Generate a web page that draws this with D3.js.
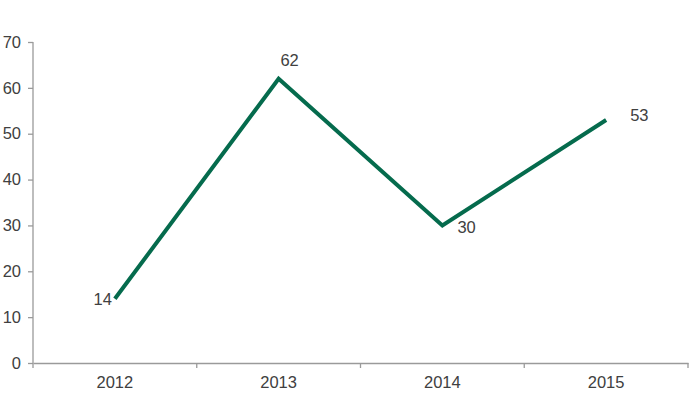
<!DOCTYPE html>
<html>
<head>
<meta charset="utf-8">
<script src="https://cdn.jsdelivr.net/npm/d3@7"></script>
<style>
body{margin:0;background:#fff;}
text{font-family:"Liberation Sans",Arial,sans-serif;}
</style>
</head>
<body>
<script>
// 数据
var years = ["2012", "2013", "2014", "2015"];
var values = [14, 62, 30, 53];
var yTicks = [0, 10, 20, 30, 40, 50, 60, 70];
// label position for each point (like excel: left / above / right)
var labelPos = ["left", "above", "right", "right"];

var width = 690, height = 393;
var margin = {left: 33, right: 2, top: 42, bottom: 30};
var fontSize = "16.5px";

var svg = d3.select("body").append("svg")
    .attr("width", width)
    .attr("height", height);

var x = d3.scaleBand()
    .domain(years)
    .range([margin.left, width - margin.right]);
var y = d3.scaleLinear()
    .domain([0, 70])
    .range([height - margin.bottom, margin.top]);

// y axis
var yAxis = svg.append("g")
    .attr("transform", "translate(" + margin.left + ",0)")
    .call(d3.axisLeft(y).tickValues(yTicks).tickSize(5).tickPadding(7));
// x axis
var xAxis = svg.append("g")
    .attr("transform", "translate(0," + y(0) + ")")
    .call(d3.axisBottom(x).tickSize(0).tickPadding(13));

[yAxis, xAxis].forEach(function(a){
    a.select(".domain").attr("stroke", "#9a9a9a").attr("stroke-width", 1.3);
    a.selectAll(".tick line").attr("stroke", "#9a9a9a").attr("stroke-width", 1.3);
    a.selectAll("text").attr("fill", "#404040").style("font-size", fontSize)
        .style("font-family", "'Liberation Sans', Arial, sans-serif");
});
yAxis.select(".domain").attr("d", "M0," + y(70) + "V" + y(0));

// x band boundary ticks
var bounds = years.map(function(d){ return x(d); }).concat([x.range()[1]]);
xAxis.selectAll(".band-tick").data(bounds).enter().append("line")
    .attr("class", "band-tick")
    .attr("x1", function(d){ return d; })
    .attr("x2", function(d){ return d; })
    .attr("y1", 0).attr("y2", 5)
    .attr("stroke", "#9a9a9a").attr("stroke-width", 1.3);

// line
var line = d3.line()
    .x(function(d, i){ return x(years[i]) + x.bandwidth() / 2; })
    .y(function(d){ return y(d); });
svg.append("path")
    .datum(values)
    .attr("d", line)
    .attr("fill", "none")
    .attr("stroke", "#056b4d")
    .attr("stroke-width", 4)
    .attr("stroke-linejoin", "miter");

// data labels
var dx = [-3, 11, 15, 24];
var dy = [6, -13, 8, 1];
svg.selectAll(".lbl").data(values).enter().append("text")
    .attr("class", "lbl")
    .attr("x", function(d, i){ return x(years[i]) + x.bandwidth() / 2 + dx[i]; })
    .attr("y", function(d, i){ return y(d) + dy[i]; })
    .attr("text-anchor", function(d, i){
        if (labelPos[i] == "left") return "end";
        if (labelPos[i] == "right") return "start";
        return "middle";
    })
    .attr("fill", "#404040")
    .style("font-size", fontSize)
    .text(function(d){ return d; });
</script>
</body>
</html>
